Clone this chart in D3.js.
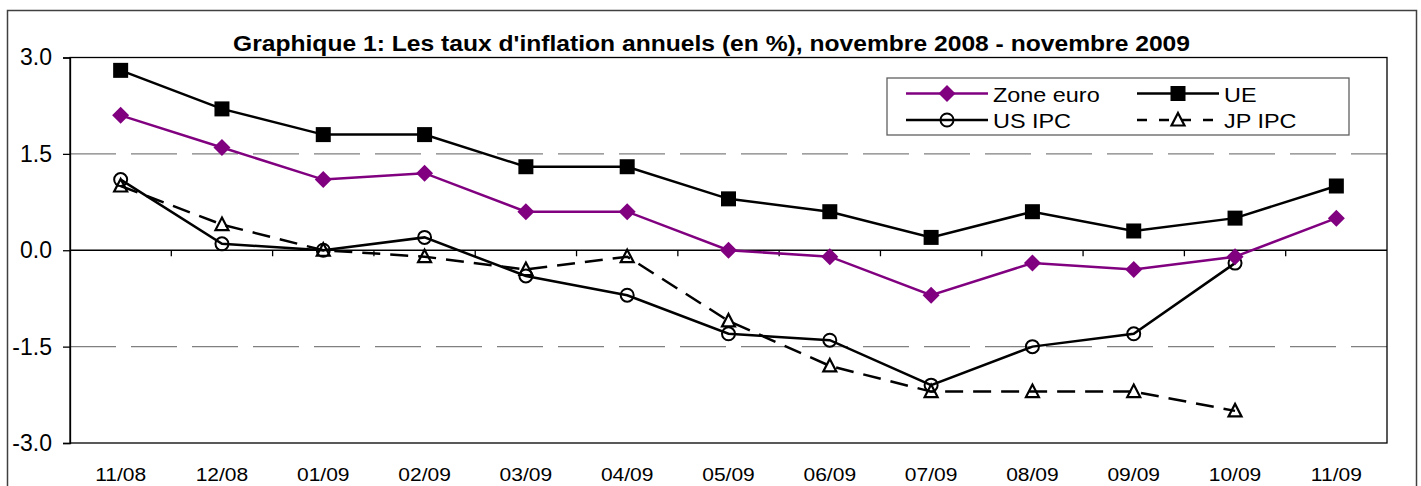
<!DOCTYPE html>
<html><head><meta charset="utf-8">
<script src="https://cdn.jsdelivr.net/npm/d3@7"></script>
<style>
html,body{margin:0;padding:0;background:#fff;}
svg{display:block;font-family:"Liberation Sans",Arial,sans-serif;}
</style></head>
<body><svg id="c" width="1421" height="486"></svg>
<script>
const categories = ["11/08","12/08","01/09","02/09","03/09","04/09","05/09","06/09","07/09","08/09","09/09","10/09","11/09"];
const zoneEuro = [2.1,1.6,1.1,1.2,0.6,0.6,0.0,-0.1,-0.7,-0.2,-0.3,-0.1,0.5];
const ue       = [2.8,2.2,1.8,1.8,1.3,1.3,0.8,0.6,0.2,0.6,0.3,0.5,1.0];
const usIpc    = [1.1,0.1,0.0,0.2,-0.4,-0.7,-1.3,-1.4,-2.1,-1.5,-1.3,-0.2,null];
const jpIpc    = [1.0,0.4,0.0,-0.1,-0.3,-0.1,-1.1,-1.8,-2.2,-2.2,-2.2,-2.5,null];
const yTicks   = [-3.0,-1.5,0.0,1.5,3.0];
const seriesNames = ["Zone euro","UE","US IPC","JP IPC"];
const title = "Graphique 1: Les taux d'inflation annuels (en %), novembre 2008 - novembre 2009";

const svg = d3.select("#c");
const L = 70, R = 1387, T = 57.5, B = 443;
const x = d3.scaleBand().domain(categories).range([L, R]);
const y = d3.scaleLinear().domain([-3, 3]).range([B, T]);
const cx = c => x(c) + x.bandwidth()/2;

function stretch(sel, k){
  sel.each(function(){
    const w = this.getComputedTextLength();
    this.setAttribute("textLength", w*k);
    this.setAttribute("lengthAdjust", "spacingAndGlyphs");
  });
}

// outer border
svg.append("rect").attr("x",7.5).attr("y",10.5).attr("width",1409).attr("height",500)
  .attr("fill","none").attr("stroke","#404040").attr("stroke-width",1.5);

// title
svg.append("text").attr("x",711.5).attr("y",51).attr("text-anchor","middle")
  .attr("font-weight","bold").attr("font-size",21.5).attr("fill","#000")
  .attr("textLength",957).attr("lengthAdjust","spacingAndGlyphs").text(title);

// gridlines
svg.append("g").selectAll("line").data(yTicks.filter(v=>Math.abs(v)===1.5)).join("line")
  .attr("x1",L).attr("x2",R).attr("y1",d=>y(d)).attr("y2",d=>y(d))
  .attr("stroke","#808080").attr("stroke-width",1.3).attr("stroke-dasharray","46,15");

// plot border
svg.append("rect").attr("x",L).attr("y",T).attr("width",R-L).attr("height",B-T)
  .attr("fill","none").attr("stroke","#000").attr("stroke-width",1.3);

// y axis
const yAxis = d3.axisLeft(y).tickValues(yTicks).tickFormat(d3.format(".1f")).tickSize(7).tickPadding(11);
const gy = svg.append("g").attr("transform",`translate(${L},0)`).call(yAxis);
gy.select(".domain").attr("stroke","#000").attr("stroke-width",1.3);
gy.selectAll(".tick line").attr("stroke","#000").attr("stroke-width",1.3);
gy.selectAll(".tick text").attr("font-size",23).attr("font-family","Liberation Sans, Arial, sans-serif").attr("fill","#000")
  .text(d => d3.format(".1f")(d).replace("−","-"));

// zero axis with ticks at category boundaries
const zeroY = y(0);
svg.append("line").attr("x1",L).attr("x2",R).attr("y1",zeroY).attr("y2",zeroY).attr("stroke","#000").attr("stroke-width",1.3);
svg.append("g").selectAll("line").data(categories.slice(1)).join("line")
  .attr("x1",d=>x(d)).attr("x2",d=>x(d)).attr("y1",zeroY).attr("y2",zeroY+6)
  .attr("stroke","#000").attr("stroke-width",1.3);

// x labels
const xl = svg.append("g").selectAll("text").data(categories).join("text")
  .attr("x",cx).attr("y",481).attr("text-anchor","middle").attr("font-size",17.5).attr("fill","#000").text(d=>d);
stretch(xl, 1.2);

// lines
const lineGen = d3.line().defined(d=>d.v!==null).x(d=>cx(d.c)).y(d=>y(d.v));
const toPts = arr => categories.map((c,i)=>({c, v: arr[i]}));

const specs = [
  {name:"JP IPC", data: jpIpc, color:"#000", dash:"18,10", marker:"triangle"},
  {name:"US IPC", data: usIpc, color:"#000", dash:null, marker:"circle"},
  {name:"Zone euro", data: zoneEuro, color:"#800080", dash:null, marker:"diamond"},
  {name:"UE", data: ue, color:"#000", dash:null, marker:"square"}
];

function drawMarker(g, type, color){
  if(type==="square"){
    g.append("rect").attr("x",-7.5).attr("y",-7.5).attr("width",15).attr("height",15).attr("fill",color);
  } else if(type==="diamond"){
    g.append("path").attr("d","M0,-8.5L8.5,0L0,8.5L-8.5,0Z").attr("fill",color);
  } else if(type==="circle"){
    g.append("circle").attr("r",6.5).attr("fill","#fff").attr("fill-opacity",0).attr("stroke",color).attr("stroke-width",2);
  } else if(type==="triangle"){
    g.append("path").attr("d","M0,-7L6.5,5.5L-6.5,5.5Z").attr("fill","none").attr("stroke",color).attr("stroke-width",2.2);
  }
}

specs.forEach(s=>{
  const pts = toPts(s.data);
  svg.append("path").datum(pts).attr("d",lineGen).attr("fill","none")
    .attr("stroke",s.color).attr("stroke-width",2.5).attr("stroke-dasharray",s.dash);
  pts.filter(p=>p.v!==null).forEach(p=>{
    const g = svg.append("g").attr("transform",`translate(${cx(p.c)},${y(p.v)})`);
    drawMarker(g, s.marker, s.color);
  });
});

// legend
svg.append("rect").attr("x",887).attr("y",78).attr("width",462).attr("height",57)
  .attr("fill","#fff").attr("stroke","#606060").attr("stroke-width",1.3);
const legendItems = [
  {name:seriesNames[0], s:specs[2], lx:906, ly:93.5},
  {name:seriesNames[1], s:specs[3], lx:1137, ly:93.5},
  {name:seriesNames[2], s:specs[1], lx:906, ly:120},
  {name:seriesNames[3], s:specs[0], lx:1137, ly:120}
];
legendItems.forEach(it=>{
  svg.append("line").attr("x1",it.lx).attr("x2",it.lx+82).attr("y1",it.ly).attr("y2",it.ly)
    .attr("stroke",it.s.color).attr("stroke-width",2.5).attr("stroke-dasharray",it.s.dash ? "10,12" : null);
  const g = svg.append("g").attr("transform",`translate(${it.lx+41},${it.ly})`);
  drawMarker(g, it.s.marker, it.s.color);
  const t = svg.append("text").attr("x",it.lx+87).attr("y",it.ly+8).attr("font-size",19.5).attr("fill","#000").text(it.name);
  stretch(t, 1.2);
});
</script></body></html>
